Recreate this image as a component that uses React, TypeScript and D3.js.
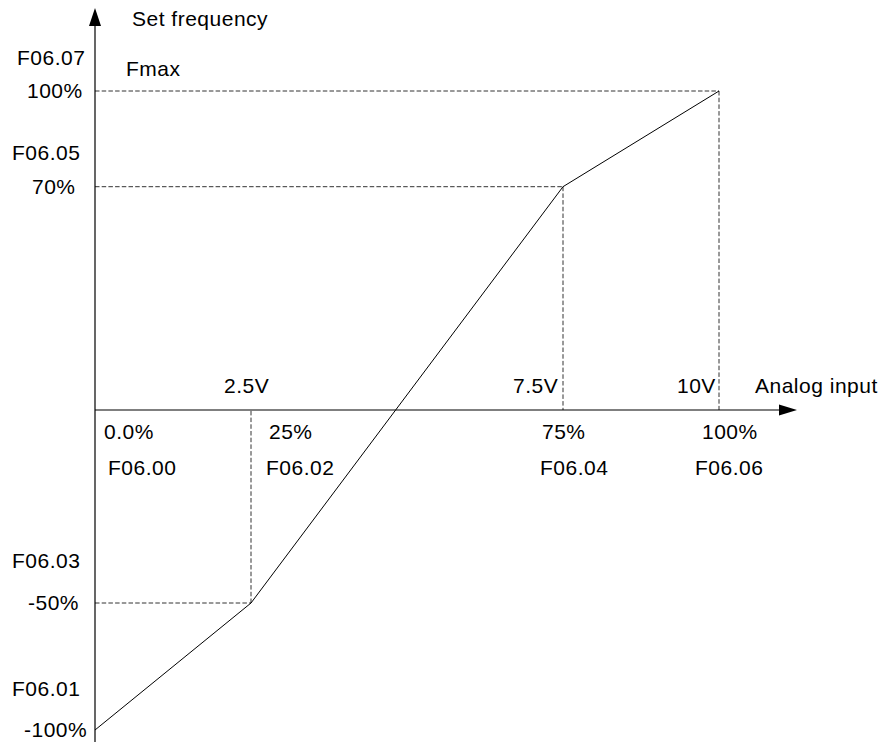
import React from "react";
import * as d3 from "d3";

// ---- data ----
const inputPct = [0, 25, 75, 100];
const outputPct = [-100, -50, 70, 100];
const xPctLabels = ["0.0%", "25%", "75%", "100%"];
const xParamLabels = ["F06.00", "F06.02", "F06.04", "F06.06"];
const yPctLabels = ["-100%", "-50%", "70%", "100%"];
const yParamLabels = ["F06.01", "F06.03", "F06.05", "F06.07"];
const voltInputs = [25, 75, 100];
const voltLabels = ["2.5V", "7.5V", "10V"];

// ---- layout ----
const W = 882;
const H = 742;
const FONT = "'Liberation Sans', Arial, Helvetica, sans-serif";
const FS = 21;
const LS = 0.5;

const xScale = d3.scaleLinear().domain([0, 100]).range([95, 719]);
// schematic (piecewise) vertical scale
const yScale = d3.scaleLinear().domain([-100, -50, 0, 100]).range([730, 603, 410, 91]);

// label offsets (layout only)
const xPctDx = [9, 18, -21, -17];
const xParamDx = [13, 15, -23, -24];
const voltDx = [-27, -50, -42];
const yPctX = [24, 28, 32, 27];
const yParamX = [12, 12, 12, 17];
const yParamDy = [-34, -35, -27, -26];

export default function App() {
  const x0 = xScale(0);
  const y0 = yScale(0);
  const line = d3
    .line<number>()
    .x((_, i) => xScale(inputPct[i]))
    .y((d) => yScale(d));

  const txt = (key: string, x: number, y: number, s: string) => (
    <text
      key={key}
      x={x}
      y={y}
      fontFamily={FONT}
      fontSize={FS}
      letterSpacing={LS}
      fill="#000"
    >
      {s}
    </text>
  );

  const dash = "4.5,2.2";
  const dashColor = "#333";

  return (
    <svg
      width={W}
      height={H}
      style={{ position: "absolute", left: 0, top: 0, background: "#fff" }}
    >
      <rect width={W} height={H} fill="#fff" />
      {/* dashed guides */}
      {inputPct.map((xi, i) => {
        if (i === 0) return null;
        const px = xScale(xi);
        const py = yScale(outputPct[i]);
        return (
          <g key={"g" + i}>
            <line x1={x0} x2={px} y1={py} y2={py} stroke={dashColor} strokeWidth={1} strokeDasharray={dash} />
            <line x1={px} x2={px} y1={py} y2={y0} stroke={dashColor} strokeWidth={1} strokeDasharray={dash} />
          </g>
        );
      })}
      {/* axes */}
      <line x1={x0} x2={x0} y1={20} y2={H} stroke="#000" strokeWidth={1.2} />
      <path d={`M${x0},8 L${x0 - 6},26 L${x0 + 6},26 Z`} fill="#000" />
      <line x1={x0} x2={785} y1={y0} y2={y0} stroke="#000" strokeWidth={1.2} />
      <path d={`M797,${y0} L779,${y0 - 5.5} L779,${y0 + 5.5} Z`} fill="#000" />
      {/* curve */}
      <path d={line(outputPct) || ""} fill="none" stroke="#000" strokeWidth={1} />
      {/* axis titles */}
      {txt("st", 132, 26, "Set frequency")}
      {txt("ai", 755, 393, "Analog input")}
      {txt("fm", 126, 76, "Fmax")}
      {/* x labels */}
      {inputPct.map((v, i) => txt("xp" + i, xScale(v) + xPctDx[i], 439, xPctLabels[i]))}
      {inputPct.map((v, i) => txt("xf" + i, xScale(v) + xParamDx[i], 475, xParamLabels[i]))}
      {voltInputs.map((v, i) => txt("v" + i, xScale(v) + voltDx[i], 393, voltLabels[i]))}
      {/* y labels */}
      {outputPct.map((v, i) => txt("yp" + i, yPctX[i], yScale(v) + 7, yPctLabels[i]))}
      {outputPct.map((v, i) => txt("yf" + i, yParamX[i], yScale(v) + yParamDy[i], yParamLabels[i]))}
    </svg>
  );
}
